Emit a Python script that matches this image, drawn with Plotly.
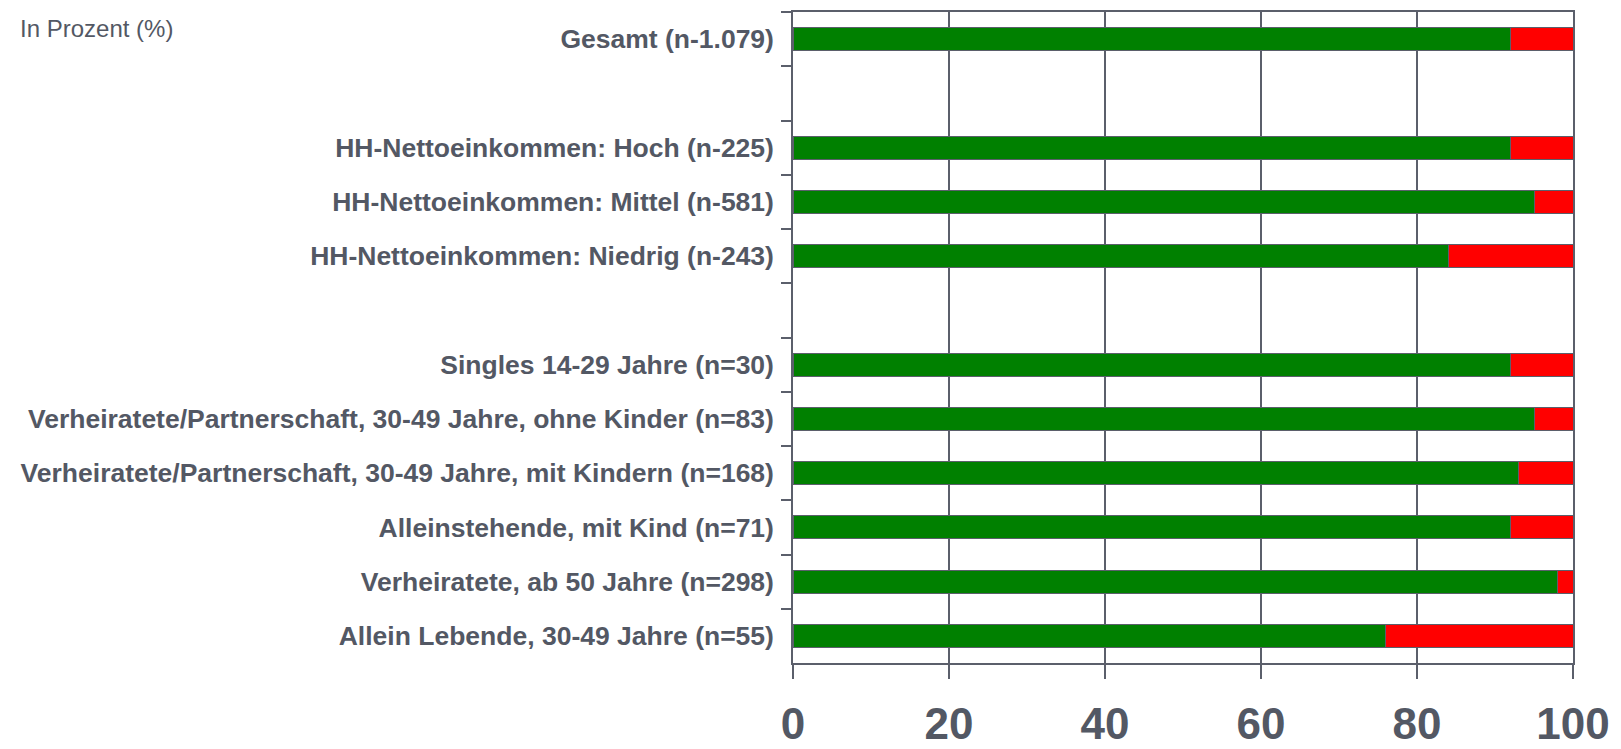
import plotly.graph_objects as go

categories = [
    "Gesamt (n-1.079)",
    " ",
    "HH-Nettoeinkommen: Hoch (n-225)",
    "HH-Nettoeinkommen: Mittel (n-581)",
    "HH-Nettoeinkommen: Niedrig (n-243)",
    "  ",
    "Singles 14-29 Jahre (n=30)",
    "Verheiratete/Partnerschaft, 30-49 Jahre, ohne Kinder (n=83)",
    "Verheiratete/Partnerschaft, 30-49 Jahre, mit Kindern (n=168)",
    "Alleinstehende, mit Kind (n=71)",
    "Verheiratete, ab 50 Jahre (n=298)",
    "Allein Lebende, 30-49 Jahre (n=55)",
]
green_values = [92, None, 92, 95, 84, None, 92, 95, 93, 92, 98, 76]
red_values = [8, None, 8, 5, 16, None, 8, 5, 7, 8, 2, 24]
x_ticks = [0, 20, 40, 60, 80, 100]

GREEN = "#008000"
RED = "#ff0000"
LINE = "#5b5f6b"
TEXT = "#535864"
FONT = "Liberation Sans, Arial, sans-serif"

fig = go.Figure()
fig.add_trace(go.Bar(y=categories, x=green_values, orientation="h",
                     marker=dict(color=GREEN, line=dict(color=LINE, width=1)),
                     hoverinfo="x+y", showlegend=False))
fig.add_trace(go.Bar(y=categories, x=red_values, orientation="h",
                     marker=dict(color=RED, line=dict(color=LINE, width=1)),
                     hoverinfo="x+y", showlegend=False))

fig.update_layout(
    width=1613, height=741,
    barmode="stack", bargap=0.58,
    plot_bgcolor="white", paper_bgcolor="white",
    margin=dict(l=785, r=48, t=4, b=86, autoexpand=False),
    font=dict(family=FONT, color=TEXT),
    xaxis=dict(
        range=[0, 100], tickvals=x_ticks, ticktext=[str(v) for v in x_ticks],
        showgrid=True, gridcolor=LINE, gridwidth=1.5,
        showline=True, linecolor=LINE, linewidth=1.5, mirror=True,
        ticks="outside", ticklen=14, tickcolor=LINE, tickwidth=1.5,
        tickfont=dict(family=FONT, size=44, color=TEXT, weight="bold"),
        ticklabelstandoff=7, zeroline=False, fixedrange=True, automargin=False,
    ),
    yaxis=dict(
        type="category", categoryorder="array", categoryarray=categories,
        autorange="reversed", tickson="boundaries",
        showgrid=False, showline=True, linecolor=LINE, linewidth=1.5, mirror=True,
        ticks="outside", ticklen=10, tickcolor=LINE, tickwidth=1.5,
        tickfont=dict(family=FONT, size=26.5, color=TEXT, weight="bold"),
        ticklabelstandoff=12, fixedrange=True, automargin=False,
    ),
    annotations=[dict(
        text="In Prozent (%)", xref="paper", yref="paper",
        x=-0.994, y=0.975, xanchor="left", yanchor="middle", showarrow=False,
        font=dict(family=FONT, size=24, color=TEXT),
    )],
)

fig.write_html("out.html")
